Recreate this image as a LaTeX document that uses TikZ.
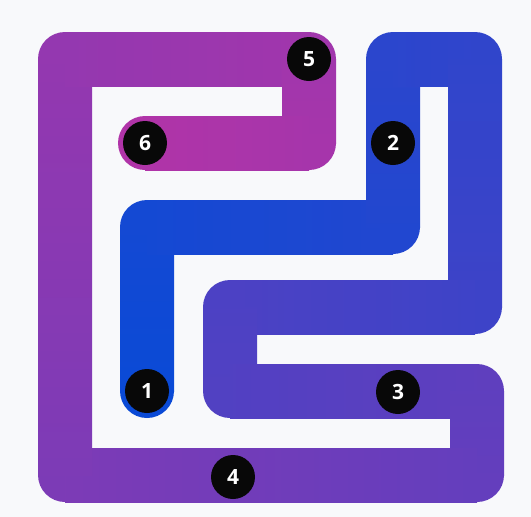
\documentclass[tikz,border=0pt]{standalone}
\usepackage{fontspec}
\setmainfont{Open Sans}
\usepackage{tikz}
\usetikzlibrary{calc}
\definecolor{pathStart}{HTML}{0A4AD6}
\definecolor{pathEnd}{HTML}{B034A8}
\definecolor{cardBg}{HTML}{F8F9FB}
\definecolor{dotBlack}{HTML}{080808}
% colour at each bend, by share of the path length
\colorlet{v0}{pathEnd!0!pathStart}
\colorlet{v1}{pathEnd!6!pathStart}
\colorlet{v2}{pathEnd!14!pathStart}
\colorlet{v3}{pathEnd!20!pathStart}
\colorlet{v4}{pathEnd!23!pathStart}
\colorlet{v5}{pathEnd!31!pathStart}
\colorlet{v6}{pathEnd!40!pathStart}
\colorlet{v7}{pathEnd!43!pathStart}
\colorlet{v8}{pathEnd!51!pathStart}
\colorlet{v9}{pathEnd!54!pathStart}
\colorlet{v10}{pathEnd!69!pathStart}
\colorlet{v11}{pathEnd!83!pathStart}
\colorlet{v12}{pathEnd!91!pathStart}
\colorlet{v13}{pathEnd!94!pathStart}
\colorlet{v14}{pathEnd!100!pathStart}

\begin{document}
\begin{tikzpicture}[
  x=1pt,y=-1pt,
  bendcap/.style={radius=27},
  numdot/.style={circle,fill=dotBlack,minimum size=44pt,inner sep=0pt,text=white,font=\fontsize{21}{21}\selectfont\bfseries}
]
\fill[cardBg] (0,0) rectangle (531,517);
\useasboundingbox (0,0) rectangle (531,517);

% bends of the path, from 1 to 6
\coordinate (p0) at (147,391);
\coordinate (p1) at (147,227);
\coordinate (p2) at (393,227);
\coordinate (p3) at (393,59);
\coordinate (p4) at (475,59);
\coordinate (p5) at (475,307);
\coordinate (p6) at (230,307);
\coordinate (p7) at (230,391);
\coordinate (p8) at (477,391);
\coordinate (p9) at (477,475);
\coordinate (p10) at (65,475);
\coordinate (p11) at (65,59);
\coordinate (p12) at (309,59);
\coordinate (p13) at (309,143);
\coordinate (p14) at (145,143);

% rounded bends and ends
\foreach \i in {0,...,14}
  \fill[v\i] (p\i) circle[bendcap];

% straight runs
\shade[top color=v1,bottom color=v0] ($(p0)+(-27,0)$) rectangle ($(p1)+(27,0)$);
\shade[left color=v1,right color=v2] ($(p1)+(0,-27)$) rectangle ($(p2)+(0,27)$);
\shade[top color=v3,bottom color=v2] ($(p2)+(-27,0)$) rectangle ($(p3)+(27,0)$);
\shade[left color=v3,right color=v4] ($(p3)+(0,-27)$) rectangle ($(p4)+(0,27)$);
\shade[top color=v4,bottom color=v5] ($(p4)+(-27,0)$) rectangle ($(p5)+(27,0)$);
\shade[left color=v6,right color=v5] ($(p6)+(0,-27)$) rectangle ($(p5)+(0,27)$);
\shade[top color=v6,bottom color=v7] ($(p6)+(-27,0)$) rectangle ($(p7)+(27,0)$);
\shade[left color=v7,right color=v8] ($(p7)+(0,-27)$) rectangle ($(p8)+(0,27)$);
\shade[top color=v8,bottom color=v9] ($(p8)+(-27,0)$) rectangle ($(p9)+(27,0)$);
\shade[left color=v10,right color=v9] ($(p10)+(0,-27)$) rectangle ($(p9)+(0,27)$);
\shade[top color=v11,bottom color=v10] ($(p11)+(-27,0)$) rectangle ($(p10)+(27,0)$);
\shade[left color=v11,right color=v12] ($(p11)+(0,-27)$) rectangle ($(p12)+(0,27)$);
\shade[top color=v12,bottom color=v13] ($(p12)+(-27,0)$) rectangle ($(p13)+(27,0)$);
\shade[left color=v14,right color=v13] ($(p14)+(0,-27)$) rectangle ($(p13)+(0,27)$);

% numbered stops
\node[numdot] (n1) at (p0) {1};
\node[numdot] (n2) at (393,143) {2};
\node[numdot] (n3) at (398,392) {3};
\node[numdot] (n4) at (233,477) {4};
\node[numdot] (n5) at (p12) {5};
\node[numdot] (n6) at (p14) {6};
\end{tikzpicture}
\end{document}
